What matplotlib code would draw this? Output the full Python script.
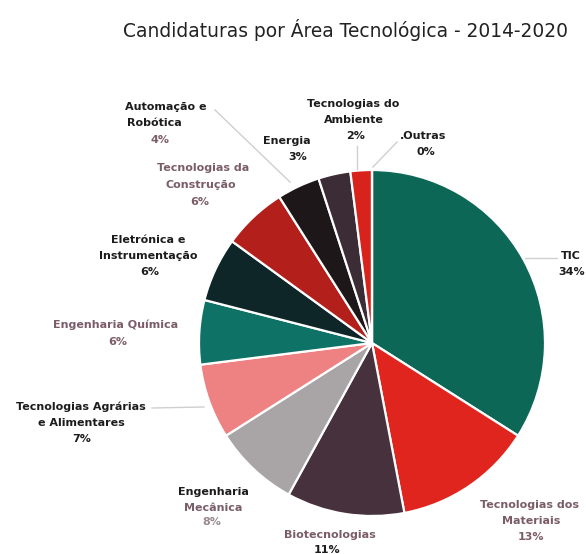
import matplotlib
matplotlib.use("Agg")
import matplotlib.pyplot as plt

# Data: share of applications per technology area (%), clockwise from the top
areas = ["TIC", "Tecnologias dos Materiais", "Biotecnologias", "Engenharia Mecânica",
         "Tecnologias Agrárias e Alimentares", "Engenharia Química",
         "Eletrónica e Instrumentação", "Tecnologias da Construção",
         "Automação e Robótica", "Energia", "Tecnologias do Ambiente", "Outras"]
shares = [34, 13, 11, 8, 7, 6, 6, 6, 4, 3, 2, 0]

colors = ["#0d6757", "#e0251e", "#46313c", "#a9a5a7", "#ee8283", "#0f7266",
          "#0e2628", "#b3201b", "#1d1719", "#3b2c35", "#d8231c", "#c0c0c0"]

title = "Candidaturas por Área Tecnológica - 2014-2020"

# Figure: 586x554 px; axes spans the whole figure, pie centred at pixel (372, 343)
W, H = 586, 554
CX, CY, R = 372, 343, 173
fig = plt.figure(figsize=(W / 100, H / 100), dpi=100)
ax = fig.add_axes([0, 0, 1, 1])

ax.pie(shares, colors=colors, startangle=90, counterclock=False, radius=1,
       wedgeprops=dict(edgecolor="white", linewidth=1.6))
ax.set_xlim(-CX / R, (W - CX) / R)
ax.set_ylim((CY - H) / R, CY / R)
ax.set_aspect("equal")
ax.axis("off")


def P(px, py):
    """Pixel position -> data coordinates."""
    return (px - CX) / R, (CY - py) / R


DARK = "#1c1c1c"
MAUVE = "#7b5d69"
LIGHT = "#9a8a90"

# Label lines: (text, x_px, y_px, colour), one entry per text line
label_lines = [
    ("TIC", 571, 256, DARK), ("34%", 572, 272, DARK),
    ("Tecnologias dos", 530, 505, MAUVE), ("Materiais", 531, 521, MAUVE), ("13%", 531, 537, MAUVE),
    ("Biotecnologias", 330, 535, MAUVE), ("11%", 327, 550, DARK),
    ("Engenharia", 213, 492, DARK), ("Mecânica", 213, 508, MAUVE), ("8%", 212, 522, LIGHT),
    ("Tecnologias Agrárias", 81, 407, DARK), ("e Alimentares", 81, 423, DARK), ("7%", 82, 439, DARK),
    ("Engenharia Química", 116, 325, MAUVE), ("6%", 118, 342, MAUVE),
    ("Eletrónica e", 148, 240, DARK), ("Instrumentação", 148, 256, DARK), ("6%", 150, 272, DARK),
    ("Tecnologias da", 203, 168, MAUVE), ("Construção", 201, 185, MAUVE), ("6%", 200, 202, MAUVE),
    ("Automação e", 166, 107, DARK), ("Robótica", 154, 123, DARK), ("4%", 160, 140, MAUVE),
    ("Energia", 287, 141, DARK), ("3%", 298, 157, DARK),
    ("Tecnologias do", 353, 104, DARK), ("Ambiente", 354, 120, DARK), ("2%", 356, 136, DARK),
    (".Outras", 423, 136, DARK), ("0%", 426, 152, DARK),
]
for txt, px, py, c in label_lines:
    x, y = P(px, py)
    ax.text(x, y, txt, ha="center", va="center", fontsize=8, fontweight="bold",
            color=c, family="DejaVu Sans")

# Leader lines
leaders = [((525, 258), (557, 258)),
           ((152, 408), (204, 407)),
           ((215, 110), (290, 182)),
           ((357, 146), (357, 169)),
           ((397, 142), (373, 167))]
for (x0, y0), (x1, y1) in leaders:
    a, b = P(x0, y0)
    c, d = P(x1, y1)
    ax.plot([a, c], [b, d], color="#cfcfcf", linewidth=1.0)

tx, ty = P(345, 30)
ax.text(tx, ty, title, ha="center", va="center", fontsize=13.4, color="#222222",
        family="DejaVu Sans")

fig.savefig("out.png", dpi=100)
